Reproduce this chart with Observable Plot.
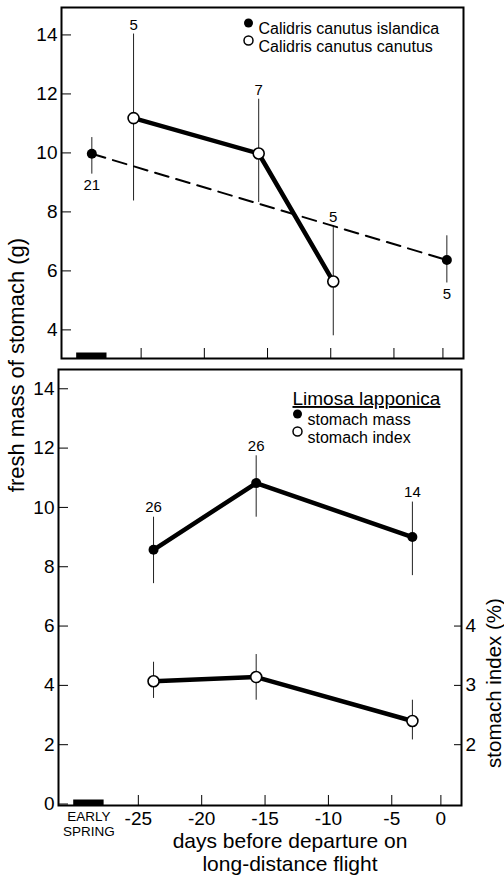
<!DOCTYPE html>
<html><head><meta charset="utf-8">
<script src="https://cdn.jsdelivr.net/npm/d3@7"></script>
<script src="https://cdn.jsdelivr.net/npm/@observablehq/plot@0.6"></script>
<style>
body{margin:0;background:#fff;font-family:"Liberation Sans",Arial,sans-serif;}
#wrap{position:relative;width:504px;height:876px;overflow:hidden;background:#fff}
#wrap svg{display:block}
.lab{position:absolute;white-space:nowrap;color:#000;font-family:"Liberation Sans",Arial,sans-serif;}
</style></head><body><div id="wrap"></div>
<script>
// ---------- data ----------
const xTicks = [-25, -20, -15, -10, -5, 0];
const xBreaks = [-31.3, -5, 0, 2.1];          // day axis: compressed after -5 in the original
const earlySpringX = -28.9;                   // "EARLY SPRING" category on the day axis
const earlySpringSpan = [-30.1, -27.7];

const islandicaDay = [-28.9, 0.4];
const islandicaMass = [9.97, 6.37];
const islandicaLo = [9.28, 5.59];
const islandicaHi = [10.52, 7.19];
const islandicaN = [21, 5];

const canutusDay = [-25.6, -15.7, -9.8];
const canutusMass = [11.18, 9.98, 5.64];
const canutusLo = [8.37, 8.32, 3.80];
const canutusHi = [14.03, 11.82, 7.53];
const canutusN = [5, 7, 5];

const limosaDay = [-23.8, -15.7, -2.9];
const limosaMass = [8.57, 10.82, 9.00];
const limosaMassLo = [7.43, 9.67, 7.70];
const limosaMassHi = [9.67, 11.74, 10.18];
const limosaN = [26, 26, 14];
const limosaIndex = [3.07, 3.14, 2.40];
const limosaIndexLo = [2.78, 2.75, 2.08];
const limosaIndexHi = [3.39, 3.52, 2.75];

const topYTicks = [4, 6, 8, 10, 12, 14];
const bottomYTicks = [0, 2, 4, 6, 8, 10, 12, 14];
const indexTicks = [2, 3, 4];
const topYDomain = [3.03, 14.93];
const bottomYDomain = [-0.05, 14.65];

const topLegend = ["Calidris canutus islandica", "Calidris canutus canutus"];
const bottomTitle = "Limosa lapponica";
const bottomLegend = ["stomach mass", "stomach index"];
// ---------------------------

const FONT = '"Liberation Sans", Arial, sans-serif';
const W = 504;
const toMass = v => 2 * (v - 1);  // right axis (%) -> left axis units

function xScale(ml, mr) {
  const c = 0.775;
  const u = (xBreaks[1] - xBreaks[0]) + c * (xBreaks[3] - xBreaks[1]);
  const k = (W - ml - mr) / u;
  const r1 = ml + (xBreaks[1] - xBreaks[0]) * k;
  const r2 = r1 + (xBreaks[2] - xBreaks[1]) * k * c;
  return {type: "linear", domain: xBreaks, range: [ml, r1, r2, W - mr], label: null};
}

const isl = islandicaDay.map((x, i) => ({x, y: islandicaMass[i], lo: islandicaLo[i], hi: islandicaHi[i], n: String(islandicaN[i])}));
const can = canutusDay.map((x, i) => ({x, y: canutusMass[i], lo: canutusLo[i], hi: canutusHi[i], n: String(canutusN[i])}));
const mass = limosaDay.map((x, i) => ({x, y: limosaMass[i], lo: limosaMassLo[i], hi: limosaMassHi[i], n: String(limosaN[i])}));
const idx = limosaDay.map((x, i) => ({x, y: toMass(limosaIndex[i]), lo: toMass(limosaIndexLo[i]), hi: toMass(limosaIndexHi[i])}));
const springBar = [{x1: earlySpringSpan[0], x2: earlySpringSpan[1]}];

const chartStyle = {fontFamily: FONT, fontSize: "19px", color: "black", background: "white", overflow: "visible"};

const topChart = Plot.plot({
  width: W, height: 365, marginTop: 7, marginBottom: 7, marginLeft: 61, marginRight: 41,
  x: xScale(61, 41),
  y: {domain: topYDomain, label: null},
  style: chartStyle,
  marks: [
    Plot.ruleY(springBar, {x1: "x1", x2: "x2", y: () => topYDomain[0], strokeWidth: 6, dy: -3, stroke: "black"}),
    Plot.ruleX(isl, {x: "x", y1: "lo", y2: "hi", stroke: "#222", strokeWidth: 1}),
    Plot.ruleX(can, {x: "x", y1: "lo", y2: "hi", stroke: "#222", strokeWidth: 1}),
    Plot.line(isl, {x: "x", y: "y", stroke: "black", strokeWidth: 2, strokeDasharray: "14,8"}),
    Plot.line(can, {x: "x", y: "y", stroke: "black", strokeWidth: 4.5}),
    Plot.dot(isl, {x: "x", y: "y", r: 5, fill: "black"}),
    Plot.dot(can, {x: "x", y: "y", r: 5.5, fill: "white", stroke: "black", strokeWidth: 1.6}),
    Plot.text(isl, {x: "x", y: "lo", text: "n", lineAnchor: "top", dy: 5, fontSize: 15}),
    Plot.text(can, {x: "x", y: "hi", text: "n", lineAnchor: "bottom", dy: -4, fontSize: 15}),
    Plot.axisY({ticks: topYTicks, tickSize: -10, tickPadding: 14, label: null, fontSize: 19}),
    Plot.axisX({ticks: xTicks, tickSize: -10, tickFormat: () => "", label: null}),
    Plot.frame({stroke: "black", strokeWidth: 2}),
    Plot.dot([topLegend[0]], {frameAnchor: "top-left", dx: 187, dy: 15.5, r: 4.5, fill: "black"}),
    Plot.dot([topLegend[1]], {frameAnchor: "top-left", dx: 187, dy: 33, r: 4.5, fill: "white", stroke: "black", strokeWidth: 1.5}),
    Plot.text([topLegend[0]], {frameAnchor: "top-left", dx: 197, dy: 15.5, text: d => d, textAnchor: "start", fontSize: 16}),
    Plot.text([topLegend[1]], {frameAnchor: "top-left", dx: 197, dy: 33, text: d => d, textAnchor: "start", fontSize: 16})
  ]
});

const bottomChart = Plot.plot({
  width: W, height: 511, marginTop: 4, marginBottom: 71, marginLeft: 58, marginRight: 43,
  x: xScale(58, 43),
  y: {domain: bottomYDomain, label: null},
  style: chartStyle,
  marks: [
    Plot.ruleY(springBar, {x1: "x1", x2: "x2", y: () => bottomYDomain[0], strokeWidth: 6, dy: -3, stroke: "black"}),
    Plot.ruleX(mass, {x: "x", y1: "lo", y2: "hi", stroke: "#222", strokeWidth: 1}),
    Plot.ruleX(idx, {x: "x", y1: "lo", y2: "hi", stroke: "#222", strokeWidth: 1}),
    Plot.line(mass, {x: "x", y: "y", stroke: "black", strokeWidth: 4.5}),
    Plot.line(idx, {x: "x", y: "y", stroke: "black", strokeWidth: 4.5}),
    Plot.dot(mass, {x: "x", y: "y", r: 5, fill: "black"}),
    Plot.dot(idx, {x: "x", y: "y", r: 5.5, fill: "white", stroke: "black", strokeWidth: 1.6}),
    Plot.text(mass, {x: "x", y: "hi", text: "n", lineAnchor: "bottom", dy: -5, fontSize: 15}),
    Plot.axisY({ticks: bottomYTicks, tickSize: -10, tickPadding: 14, label: null, fontSize: 19}),
    Plot.axisY({anchor: "right", ticks: indexTicks.map(toMass), tickFormat: d => String(d / 2 + 1), tickSize: -8, tickPadding: 12, label: null, fontSize: 19}),
    Plot.axisX({ticks: xTicks, tickSize: -10, tickPadding: 16, tickFormat: d => String(d), label: null, fontSize: 19}),
    Plot.text([{x: earlySpringX}], {x: "x", frameAnchor: "bottom", lineAnchor: "top", dy: 5, text: () => "EARLY\nSPRING", fontSize: 13.5, lineHeight: 1.12}),
    Plot.frame({stroke: "black", strokeWidth: 2}),
    Plot.text([bottomTitle], {frameAnchor: "top-left", dx: 234, dy: 22, text: d => d, textAnchor: "start", fontSize: 19}),
    Plot.dot([bottomLegend[0]], {frameAnchor: "top-left", dx: 239, dy: 44.5, r: 4.5, fill: "black"}),
    Plot.dot([bottomLegend[1]], {frameAnchor: "top-left", dx: 239, dy: 62, r: 4.5, fill: "white", stroke: "black", strokeWidth: 1.5}),
    Plot.text([bottomLegend[0]], {frameAnchor: "top-left", dx: 249, dy: 44.5, text: d => d, textAnchor: "start", fontSize: 16}),
    Plot.text([bottomLegend[1]], {frameAnchor: "top-left", dx: 249, dy: 62, text: d => d, textAnchor: "start", fontSize: 16})
  ]
});

// axis tick labels at the reference's size
for (const svg of [topChart, bottomChart]) {
  d3.select(svg).selectAll('g[aria-label$="tick label"]').attr("font-size", 19).style("font-size", "19px");
}
d3.select(bottomChart).selectAll("text").filter(function() { return this.textContent === bottomTitle; })
  .attr("text-decoration", "underline").style("text-decoration", "underline");

const wrap = document.getElementById("wrap");
wrap.appendChild(topChart);
wrap.appendChild(bottomChart);

function addLabel(html, css) {
  const d = document.createElement("div");
  d.className = "lab";
  d.innerHTML = html;
  Object.assign(d.style, css);
  wrap.appendChild(d);
}
addLabel("fresh mass of stomach (g)", {left: "17px", top: "365px", fontSize: "22px", transform: "translate(-50%,-50%) rotate(-90deg)"});
addLabel("stomach index (%)", {left: "493px", top: "683px", fontSize: "20.5px", lineHeight: "21px", transform: "translate(-50%,-50%) rotate(-90deg)"});
addLabel("days before departure on<br>long-distance flight", {left: "290px", top: "828.6px", fontSize: "21px", lineHeight: "23px", textAlign: "center", transform: "translateX(-50%)"});
</script></body></html>
